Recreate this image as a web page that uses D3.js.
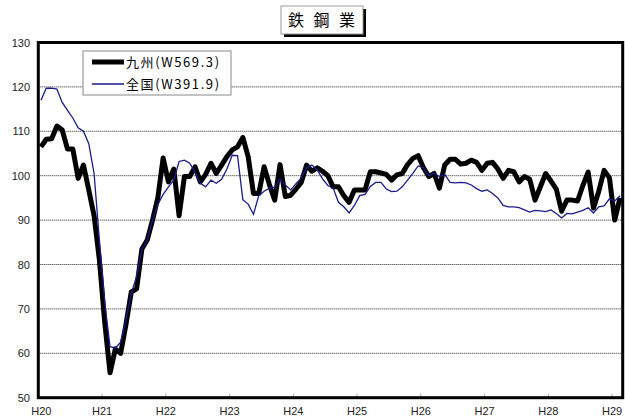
<!DOCTYPE html>
<html>
<head>
<meta charset="utf-8">
<script src="https://cdn.jsdelivr.net/npm/d3@7/dist/d3.min.js"></script>
<style>
  body { margin: 0; background: #fff; }
  text { font-family: "Liberation Sans", Arial, sans-serif; }
  .jp { font-family: "Noto Sans CJK JP", sans-serif; }
</style>
</head>
<body>
<div id="chart"></div>
<script>
// monthly index, H20.1 - H29.2
var kyushu = [
  106.5, 108.2, 108.3, 111.2, 110.3, 106.0, 106.0, 99.4, 102.4, 96.8, 91.0, 81.0,
  67.0, 55.6, 61.0, 60.0, 66.5, 73.8, 74.5, 83.5, 85.5, 90.0, 95.0, 104.0,
  98.6, 101.5, 91.0, 99.8, 99.8, 102.0, 98.6, 100.3, 102.8, 100.5, 102.4, 104.3,
  105.8, 106.5, 108.6, 104.3, 96.0, 96.0, 102.0, 98.0, 94.5, 102.5, 95.3, 95.6,
  97.0, 98.5, 102.4, 101.0, 101.8, 101.0, 100.0, 97.5, 97.5, 95.5, 94.0, 96.8,
  96.8, 96.8, 100.9, 100.9, 100.6, 100.3, 99.0, 100.2, 100.5, 102.5, 103.9, 104.5,
  101.8, 99.8, 100.5, 97.2, 102.4, 103.7, 103.7, 102.6, 102.8, 103.5, 103.0, 101.2,
  102.8, 103.0, 101.5, 99.4, 101.2, 100.9, 98.6, 99.8, 99.2, 94.5, 97.5, 100.5,
  98.8, 97.0, 92.0, 94.5, 94.5, 94.3, 97.8, 100.8, 92.7, 96.5, 101.2, 99.5,
  90.0, 95.0
];
var zenkoku = [
  117.0, 119.7, 119.7, 119.5, 116.5, 114.7, 113.0, 110.8, 110.0, 107.2, 100.5, 85.5,
  71.5, 61.5, 61.2, 62.5, 67.5, 73.5, 77.3, 83.4, 85.5, 90.0, 93.5, 95.8,
  97.5, 99.0, 103.2, 103.5, 102.8, 100.8, 98.3, 97.5, 99.0, 98.3, 99.2, 101.5,
  104.6, 104.5, 94.6, 93.6, 91.3, 95.5, 96.5, 97.2, 97.4, 99.2, 97.9, 96.8,
  98.2, 99.5, 101.8, 102.4, 101.3, 99.3, 97.8, 97.2, 94.0, 93.0, 91.6, 93.3,
  95.5, 95.8, 97.6, 98.5, 98.5, 97.0, 96.4, 96.5, 97.5, 99.0, 100.5, 102.2,
  101.8, 100.0, 100.5, 99.8, 100.3, 98.5, 98.4, 98.5, 98.4, 97.9, 97.1, 96.5,
  96.8, 96.0, 95.0, 93.3, 93.0, 93.0, 92.8, 92.3, 91.8, 92.2, 92.1, 91.9,
  92.3, 91.5, 90.5, 91.5, 91.4, 91.8, 92.2, 92.8, 91.6, 93.0, 93.2, 94.8,
  94.3, 95.5
];
var yearLabels = ["H20", "H21", "H22", "H23", "H24", "H25", "H26", "H27", "H28", "H29"];
var yTicks = [50, 60, 70, 80, 90, 100, 110, 120, 130];
var seriesNames = ["九州(W569.3)", "全国(W391.9)"];

var w = 625, h = 418;
var pLeft = 38.3, pRight = 622.7, pTop = 42.5, pBottom = 397.7;

var svg = d3.select("#chart").append("svg")
  .attr("width", w)
  .attr("height", h);

var x = d3.scaleLinear().domain([-0.5, kyushu.length - 0.5]).range([pLeft, pRight]);
var y = d3.scaleLinear().domain([50, 130]).range([pBottom, pTop]);

// gridlines
svg.append("g")
  .selectAll("line")
  .data(yTicks.filter(function(d) { return d > 50 && d < 130; }))
  .enter().append("line")
  .attr("x1", pLeft).attr("x2", pRight)
  .attr("y1", function(d) { return y(d); })
  .attr("y2", function(d) { return y(d); })
  .attr("stroke", "#222")
  .attr("stroke-width", 1)
  .attr("stroke-dasharray", "1,1");

// y labels
svg.append("g")
  .selectAll("text")
  .data(yTicks)
  .enter().append("text")
  .attr("x", 30)
  .attr("y", function(d) { return y(d) + 4; })
  .attr("text-anchor", "end")
  .attr("font-size", 11)
  .attr("fill", "#222")
  .text(function(d) { return d; });

// x ticks and labels (one per year, at category boundary)
var yearPos = yearLabels.map(function(d, i) { return i * 12 - 0.5; });
svg.append("g")
  .selectAll("line")
  .data(yearPos.slice(1))
  .enter().append("line")
  .attr("x1", function(d) { return x(d); })
  .attr("x2", function(d) { return x(d); })
  .attr("y1", pBottom).attr("y2", pBottom - 4)
  .attr("stroke", "#aaa");

svg.append("g")
  .selectAll("text")
  .data(yearLabels)
  .enter().append("text")
  .attr("x", function(d, i) { return i === 0 ? x(yearPos[i]) + 3 : x(yearPos[i]); })
  .attr("y", 415)
  .attr("text-anchor", "middle")
  .attr("font-size", 11)
  .attr("fill", "#222")
  .text(function(d) { return d; });

var line = d3.line()
  .x(function(d, i) { return x(i); })
  .y(function(d) { return y(d); });

svg.append("path")
  .datum(kyushu)
  .attr("d", line)
  .attr("fill", "none")
  .attr("stroke", "#000")
  .attr("stroke-width", 5)
  .attr("stroke-linejoin", "round");

svg.append("path")
  .datum(zenkoku)
  .attr("d", line)
  .attr("fill", "none")
  .attr("stroke", "#1a1a8c")
  .attr("stroke-width", 1.3);

// frame
svg.append("rect")
  .attr("x", pLeft).attr("y", pTop)
  .attr("width", pRight - pLeft).attr("height", pBottom - pTop)
  .attr("fill", "none")
  .attr("stroke", "#000")
  .attr("stroke-width", 3);

// legend
var lg = svg.append("g").attr("transform", "translate(83,51)");
lg.append("rect")
  .attr("width", 148).attr("height", 44)
  .attr("fill", "#fff")
  .attr("stroke", "#888");
var legendStyle = [
  { color: "#000", width: 5 },
  { color: "#1a1a8c", width: 1.5 }
];
seriesNames.forEach(function(name, i) {
  var cy = 11 + i * 22;
  lg.append("line")
    .attr("x1", 9).attr("x2", 41)
    .attr("y1", cy).attr("y2", cy)
    .attr("stroke", legendStyle[i].color)
    .attr("stroke-width", legendStyle[i].width);
  lg.append("text")
    .attr("class", "jp")
    .attr("x", 43)
    .attr("y", cy + 5)
    .attr("font-size", 13)
    .attr("letter-spacing", 1.6)
    .attr("fill", "#000")
    .text(name);
});

// title box with shadow
var tg = svg.append("g").attr("transform", "translate(281,6)");
tg.append("rect")
  .attr("x", 3).attr("y", 3)
  .attr("width", 82).attr("height", 28)
  .attr("fill", "#000");
tg.append("rect")
  .attr("width", 82).attr("height", 28)
  .attr("fill", "#fff")
  .attr("stroke", "#999");
tg.append("text")
  .attr("class", "jp")
  .attr("x", 42).attr("y", 20)
  .attr("text-anchor", "middle")
  .attr("font-size", 16)
  .attr("letter-spacing", 3)
  .attr("fill", "#000")
  .text("鉄 鋼 業");
</script>
</body>
</html>
